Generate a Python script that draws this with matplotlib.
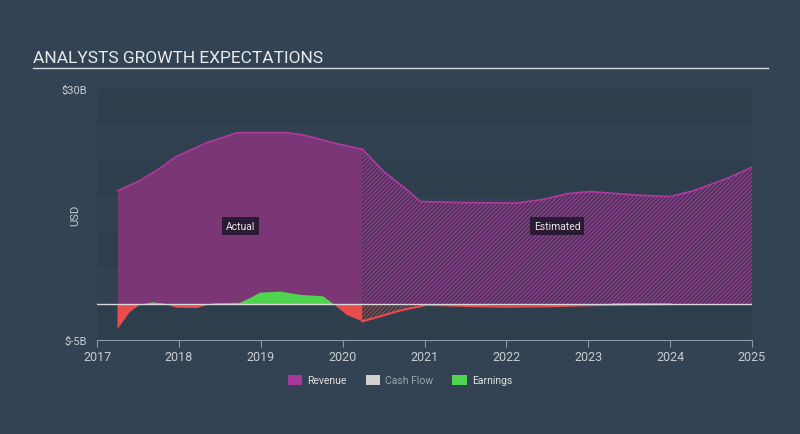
import matplotlib
matplotlib.use('Agg')
import numpy as np
import matplotlib.pyplot as plt
from matplotlib.patches import Patch
from matplotlib.lines import Line2D

plt.rcParams['font.family'] = ['Roboto', 'DejaVu Sans']
plt.rcParams['hatch.linewidth'] = 0.8

# revenue (USD bn), actual then analyst estimates
rev_act_x = [2017.25, 2017.52, 2017.75, 2017.97, 2018.34, 2018.71, 2019.0, 2019.32, 2019.52, 2019.88, 2020.24]
rev_act_y = [15.8, 17.2, 18.8, 20.6, 22.5, 23.9, 23.9, 23.9, 23.6, 22.5, 21.6]
rev_est_x = [2020.24, 2020.5, 2020.78, 2020.95, 2021.5, 2022.13, 2022.45, 2022.74, 2023.02, 2023.59, 2024.0, 2024.28, 2024.69, 2025.0]
rev_est_y = [21.6, 18.5, 16.0, 14.3, 14.15, 14.1, 14.6, 15.4, 15.7, 15.2, 15.0, 15.8, 17.5, 19.1]

# earnings (USD bn)
earn_act_x = [2017.25, 2017.40, 2017.52, 2017.68, 2017.81, 2017.97, 2018.22, 2018.42, 2018.75, 2018.87,
              2018.99, 2019.24, 2019.48, 2019.76, 2019.89, 2020.05, 2020.24]
earn_act_y = [-3.5, -1.1, -0.1, 0.25, 0.1, -0.5, -0.55, 0.1, 0.2, 0.85,
              1.6, 1.75, 1.3, 1.1, 0.0, -1.5, -2.4]
earn_est_x = [2020.24, 2020.46, 2020.70, 2021.03, 2021.5, 2022.0, 2022.5, 2023.0, 2023.5, 2024.0]
earn_est_y = [-2.4, -1.7, -0.9, -0.1, -0.25, -0.35, -0.3, -0.15, -0.05, 0.0]

bg = '#334353'
plot_bg = '#2e3c4b'
rev_fill = '#7b3775'
rev_line = '#b03a9f'
green = '#4fd44f'
red = '#e84c4c'

fig = plt.figure(figsize=(8, 4.35), dpi=100, facecolor=bg)
ax = fig.add_axes([97/800, 1-341/435, (752-97)/800, (341-90)/435])
ax.set_facecolor(plot_bg)

# background bands
for i, lo in enumerate(range(-5, 30, 5)):
    ax.axhspan(lo, lo+5, color='#2f3e4d' if i % 2 == 0 else '#324151', lw=0, zorder=0)

# revenue
ax.fill_between(rev_act_x, rev_act_y, 0, color=rev_fill, lw=0, zorder=1)
ax.plot(rev_act_x, rev_act_y, color=rev_line, lw=1.2, zorder=3)
ax.fill_between(rev_est_x, rev_est_y, 0, facecolor='#4f3256', edgecolor='#94409a',
                hatch='////////', lw=0, zorder=1)
ax.plot(rev_est_x, rev_est_y, color=rev_line, lw=1.2, zorder=3)

# earnings
ex = np.array(earn_act_x)
ey = np.array(earn_act_y)
ax.fill_between(ex, ey, 0, where=ey >= 0, interpolate=True, color=green, lw=0, zorder=2)
ax.fill_between(ex, ey, 0, where=ey <= 0, interpolate=True, color=red, lw=0, zorder=2)
ax.fill_between(earn_est_x, earn_est_y, 0, facecolor='none', edgecolor='#a84848',
                hatch='////////', lw=0, zorder=2)
ax.plot(earn_est_x, earn_est_y, color=red, lw=1.5, zorder=3)
ax.plot([2023.3, 2024.0], [0.05, 0.05], color='#7a9a4a', lw=1.2, zorder=3)

ax.axhline(0, color='#d8d8d8', lw=1, zorder=4)

ax.text(2018.75, 10.9, 'Actual', color='#e8e8e8', fontsize=7.5, ha='center', va='center',
        bbox=dict(boxstyle='square,pad=0.35', fc='#2b1a33', ec='none'), zorder=5)
ax.text(2022.62, 10.9, 'Estimated', color='#e8e8e8', fontsize=7.5, ha='center', va='center',
        bbox=dict(boxstyle='square,pad=0.35', fc='#2b1a33', ec='none'), zorder=5)

ax.set_xlim(2017, 2025)
ax.set_ylim(-5, 30)
ax.set_xticks(range(2017, 2026))
ax.set_xticklabels([str(y) for y in range(2017, 2026)])
ax.set_yticks([-5, 30])
ax.set_yticklabels(['$-5B', '$30B'])
ax.tick_params(axis='y', length=0, colors='#c8ccd0', labelsize=8, pad=7)
ax.tick_params(axis='x', length=5, color='#8c9bab', labelcolor='#c8ccd0', labelsize=9, pad=2)
for loc, spine in ax.spines.items():
    if loc == 'bottom':
        spine.set_color('#8c9bab')
    else:
        spine.set_visible(False)
ax.set_ylabel('USD', color='#c8ccd0', fontsize=8)
ax.yaxis.set_label_coords(-0.026, 0.5)

# title
fig.text(33/800, 1-63/435, 'ANALYSTS GROWTH EXPECTATIONS', color='#e8eaec', fontsize=12.5,
         ha='left', va='baseline')
fig.add_artist(Line2D([33/800, 768/800], [1-68.5/435, 1-68.5/435], color='#d8dadc', lw=1))

handles = [Patch(facecolor='#a8379c', edgecolor='none'),
           Patch(facecolor='#d0d0d0', edgecolor='none'),
           Patch(facecolor=green, edgecolor='none')]
leg = fig.legend(handles, ['Revenue', 'Cash Flow', 'Earnings'], loc='center',
                 bbox_to_anchor=(0.5, 1-381/435), ncol=3, frameon=False, fontsize=7.5,
                 handlelength=1.4, handleheight=1.1, handletextpad=0.5, columnspacing=1.8)
for t, c in zip(leg.get_texts(), ['#e0e0e0', '#9aa4ae', '#e0e0e0']):
    t.set_color(c)

fig.savefig('out.png', dpi=100, facecolor=bg)
